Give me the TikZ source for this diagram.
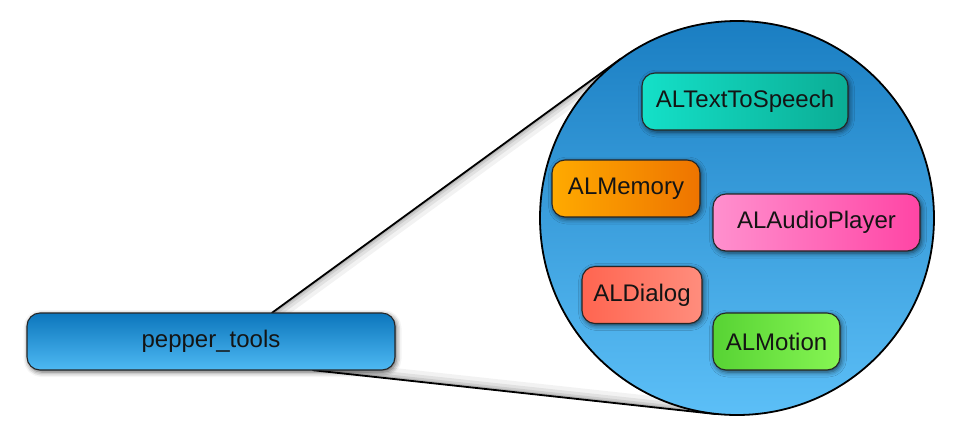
\documentclass[tikz,border=0pt]{standalone}
\usepackage{fontspec}
\setmainfont{Liberation Sans}
\usetikzlibrary{calc,shadows.blur}

\definecolor{zoomtop}{HTML}{1A7EC2}
\definecolor{zoombot}{HTML}{5CBFF7}
\definecolor{tooltop}{HTML}{0C76BC}
\definecolor{toolbot}{HTML}{4EB9F3}
\definecolor{ttsL}{HTML}{14E0C8}
\definecolor{ttsR}{HTML}{0BAD95}
\definecolor{memL}{HTML}{FFAA00}
\definecolor{memR}{HTML}{EE7400}
\definecolor{audL}{HTML}{FF90CE}
\definecolor{audR}{HTML}{FF45A5}
\definecolor{dlgL}{HTML}{FF6550}
\definecolor{dlgR}{HTML}{FF8D7D}
\definecolor{motL}{HTML}{57D334}
\definecolor{motR}{HTML}{86F553}

\begin{document}
\begin{tikzpicture}[x=1pt,y=-1pt,
    mod/.style={draw=black!85,line width=1.1pt,rounded corners=13pt,
        minimum height=57pt,inner sep=0pt,text=black!92,
        font=\fontsize{24}{28}\selectfont,
        blur shadow={shadow xshift=1.5pt,shadow yshift=-2pt,
            shadow blur radius=5pt,shadow opacity=65}},
    edge/.style={line width=1.8pt,line cap=round}]
\useasboundingbox (0,0) rectangle (966,440);

% the zoomed circle and the box it comes from
\node[circle,minimum size=394pt,inner sep=0pt] (zoom) at (737,218) {};
\node[minimum width=368pt,minimum height=57pt,inner sep=0pt] (tools) at (211,341.5) {};

\coordinate (t1) at ([xshift=61pt]tools.north);
\coordinate (t2) at ([xshift=102pt]tools.south);
\coordinate (c1) at (tangent cs:node=zoom,point={(t1)},solution=2);
\coordinate (c2) at (tangent cs:node=zoom,point={(t2)},solution=1);

% soft shadow inside the cone
\begin{scope}
  \clip (t1) -- (c1) -- (zoom.center) -- (c2) -- (t2) -- cycle;
  \foreach \w/\o in {22/0.05,14/0.07,8/0.09,4/0.12} {
    \draw[line width=\w pt,black,opacity=\o] (t1) -- (c1);
    \draw[line width=\w pt,black,opacity=\o] (t2) -- (c2);
  }
\end{scope}

\draw[edge] (t1) -- (c1);
\draw[edge] (t2) -- (c2);

\node[circle,minimum size=394pt,inner sep=0pt,draw=black,line width=1.8pt,
    top color=zoomtop,bottom color=zoombot] at (zoom) {};
\node[mod,minimum width=368pt,top color=tooltop,bottom color=toolbot]
    at (tools) {pepper\_tools};

% modules
\node[mod,minimum width=206pt,left color=ttsL,right color=ttsR] (tts) at (745,101.5) {ALTextToSpeech};
\node[mod,minimum width=148pt,left color=memL,right color=memR] (mem) at (626,188.5) {ALMemory};
\node[mod,minimum width=207pt,left color=audL,right color=audR] (audio) at (816.5,222.5) {ALAudioPlayer};
\node[mod,minimum width=120pt,left color=dlgL,right color=dlgR] (dlg) at (642,295) {ALDialog};
\node[mod,minimum width=127pt,left color=motL,right color=motR] (motion) at (776.5,341.5) {ALMotion};
\end{tikzpicture}
\end{document}
